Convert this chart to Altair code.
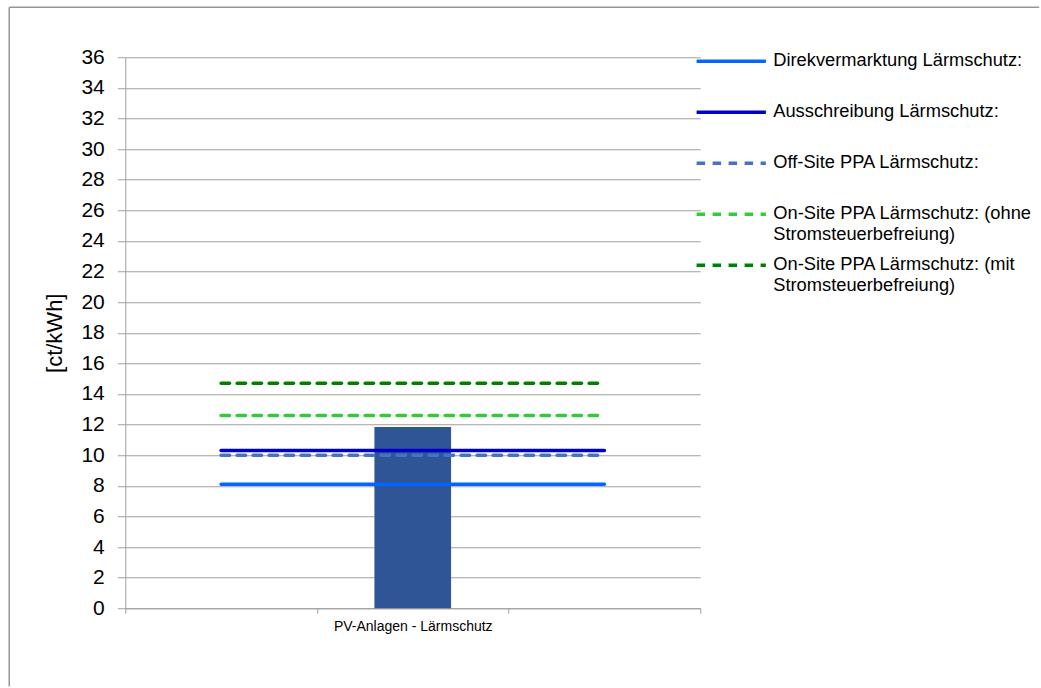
import altair as alt
import pandas as pd

# Category slots on the x axis: the bar sits in the middle slot,
# the reference lines run from the first slot centre to the last.
categories = [" ", "PV-Anlagen - Lärmschutz", "  "]
bar_category = "PV-Anlagen - Lärmschutz"
bar_value = 11.85

series_names = [
    "Direkvermarktung Lärmschutz:",
    "Ausschreibung Lärmschutz:",
    "Off-Site PPA Lärmschutz:",
    "On-Site PPA Lärmschutz: (ohne Stromsteuerbefreiung)",
    "On-Site PPA Lärmschutz: (mit Stromsteuerbefreiung)",
]
series_values = [8.1, 10.3, 10.0, 12.6, 14.7]
series_colors = ["#0066FF", "#0000C8", "#4472C4", "#33CC33", "#008000"]
series_dashes = [[1, 0], [1, 0], [8.5, 7.5], [8.5, 7.5], [8.5, 7.5]]

y_ticks = list(range(0, 37, 2))

FONT = "Liberation Sans"
GRID = "#A0A0A0"

bar_df = pd.DataFrame({"Kategorie": [bar_category], "Wert": [bar_value]})
line_df = pd.DataFrame(
    [
        {"Kategorie": c, "Wert": v, "Reihe": n}
        for n, v in zip(series_names, series_values)
        for c in categories
    ]
)

x_enc = alt.X(
    "Kategorie:N",
    sort=categories,
    scale=alt.Scale(domain=categories, paddingInner=0, paddingOuter=0),
    axis=alt.Axis(
        title=None,
        labelAngle=0,
        tickBand="extent",
        tickSize=5,
        labelPadding=6,
        labelFontSize=14,
        labelFont=FONT,
        labelColor="#000000",
        domainColor=GRID,
        tickColor=GRID,
        grid=False,
    ),
)

y_scale = alt.Scale(domain=[0, 36], nice=False, zero=True)
y_axis = alt.Axis(
    title="[ct/kWh]",
    values=y_ticks,
    labelOverlap=False,
    tickSize=8,
    labelPadding=13,
    labelFontSize=21,
    labelFont=FONT,
    labelColor="#000000",
    titleFont=FONT,
    titleFontSize=22,
    titleFontWeight="normal",
    titleColor="#000000",
    titlePadding=14,
    domainColor=GRID,
    tickColor=GRID,
    gridColor=GRID,
    grid=True,
)
y_enc = alt.Y("Wert:Q", scale=y_scale, axis=y_axis)

bars = (
    alt.Chart(bar_df)
    .mark_bar(color="#2F5597", width=alt.RelativeBandSize(0.4))
    .encode(x=x_enc, y=y_enc)
)

# Every legend label is two lines tall so all entries get the same height;
# the long entries wrap before "Strom...".
label_expr = (
    "indexof(datum.label, 'Strom') > 0 ? "
    "[slice(datum.label, 0, indexof(datum.label, 'Strom') - 1), "
    "slice(datum.label, indexof(datum.label, 'Strom'))] : [datum.label, '']"
)

legend = alt.Legend(
    title=None,
    orient="none",
    legendX=585,
    legendY=-17,
    symbolType="M-1.8,0H1.8",
    symbolSize=1482,
    symbolStrokeWidth=3.5,
    labelFont=FONT,
    labelFontSize=18.3,
    labelColor="#000000",
    labelOffset=21,
    labelLimit=0,
    labelExpr=label_expr,
    padding=0,
    rowPadding=0,
)

lines = (
    alt.Chart(line_df)
    .mark_line(strokeWidth=3.5, strokeCap="round")
    .encode(
        x=x_enc,
        y=y_enc,
        color=alt.Color(
            "Reihe:N",
            sort=series_names,
            scale=alt.Scale(domain=series_names, range=series_colors),
            legend=legend,
        ),
        strokeDash=alt.StrokeDash(
            "Reihe:N",
            sort=series_names,
            scale=alt.Scale(domain=series_names, range=series_dashes),
            legend=legend,
        ),
    )
)

# Thin grey frame around the chart (top and left edges)
frame_data = alt.Data(values=[{}])
frame_top = (
    alt.Chart(frame_data)
    .mark_rule(color="#969696", strokeWidth=1.5)
    .encode(x=alt.value(-116), x2=alt.value(914), y=alt.value(-50))
)
frame_left = (
    alt.Chart(frame_data)
    .mark_rule(color="#969696", strokeWidth=1.5)
    .encode(x=alt.value(-116), y=alt.value(-50), y2=alt.value(629))
)

chart = (
    alt.layer(frame_top, frame_left, bars, lines)
    .properties(
        width=575,
        height=551,
        padding={"left": 8.25, "top": 6.25, "right": 0, "bottom": 0},
        background="#FFFFFF",
    )
    .configure(style={"guide-label": {"lineHeight": 21}})
    .configure_view(stroke="transparent")
)

chart.save("out.html", embed_options={"renderer": "svg", "actions": False})
